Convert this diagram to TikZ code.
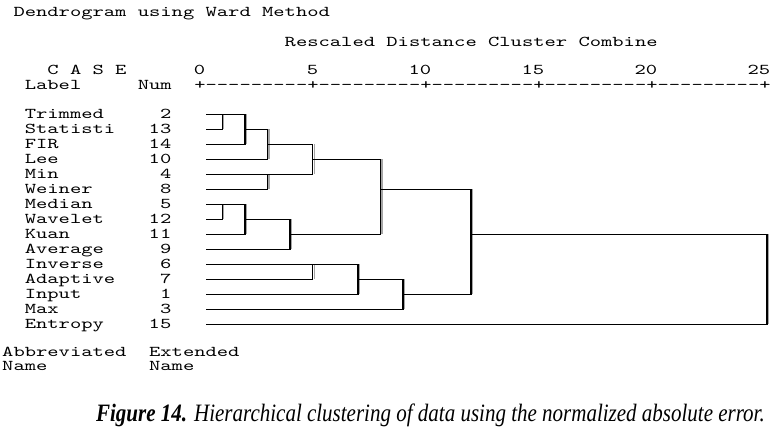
\documentclass[tikz,border=0pt]{standalone}
\usepackage{fontspec}
\usepackage{tikz}
\usetikzlibrary{calc}
\newfontfamily\spssfont{lmmono10-regular.otf}[FakeStretch=1.435,Ligatures=TeXOff]
\newfontfamily\captionfont{Liberation Serif}[FakeStretch=0.84]
\definecolor{spssgray}{RGB}{165,165,165}

\begin{document}
\begin{tikzpicture}[x=1pt,y=-1pt,line cap=butt,line join=miter,
  txt/.style={anchor=base west,inner sep=0pt,
   font=\spssfont\fontsize{15}{15}\selectfont},
  branch/.style={black,line width=1.5pt},
  shadowline/.style={spssgray,line width=1.2pt}]
 \useasboundingbox (0,0) rectangle (779,432);
 % Naglowek wydruku
 \node[txt] (title) at (13.3,16) {Dendrogram using Ward Method};
 \node[txt] (rescaled) at (284.5,46) {Rescaled Distance Cluster Combine};
 \node[txt] (case) at (47.2,74) {C A S E};
 \node[txt] (label) at (24.6,89) {Label};
 \node[txt] (num) at (137.6,89) {Num};
 \foreach \t [count=\k from 0] in {0,5,10,15,20,25}
  \node[txt,anchor=base east] (tick\t) at ({2+11.3*(18+10*\k)},74) {\t};
 \node[txt] (axis) at (194.1,89)
  {+---------+---------+---------+---------+---------+};
 % Wiersze: nazwa, numer i poczatek galezi
 \foreach \lab/\num [count=\i from 0] in {Trimmed/2,Statisti/13,FIR/14,
   Lee/10,Min/4,Weiner/8,Median/5,Wavelet/12,Kuan/11,Average/9,
   Inverse/6,Adaptive/7,Input/1,Max/3,Entropy/15}{
  \node[txt] (lab\num) at (24.6,{118.3+15*\i}) {\lab};
  \node[txt,anchor=base east] (num\num) at (171.5,{118.3+15*\i}) {\num};
  \coordinate (leaf\num) at (206,{114.3+15*\i});
 }
 % Punkty laczenia: odleglosc i wiersz wyjscia
 \begin{scope}[shift={(199.7,114.3)},x=22.6pt,y=-15pt]
  \coordinate (m1) at (1,0);
  \coordinate (m2) at (2,1);
  \coordinate (m3) at (3,2);
  \coordinate (m4) at (3,4);
  \coordinate (m5) at (5,3);
  \coordinate (m6) at (1,6);
  \coordinate (m7) at (2,7);
  \coordinate (m8) at (4,8);
  \coordinate (m9) at (8,5);
  \coordinate (m10) at (5,10);
  \coordinate (m11) at (7,11);
  \coordinate (m12) at (9,12);
  \coordinate (m13) at (12,8);
  \coordinate (m14) at (25.1,8);
 \end{scope}
 \foreach \a/\b/\m in {leaf2/leaf13/m1,m1/leaf14/m2,m2/leaf10/m3,
   leaf4/leaf8/m4,m3/m4/m5,leaf5/leaf12/m6,m6/leaf11/m7,m7/leaf9/m8,
   m5/m8/m9,leaf6/leaf7/m10,m10/leaf1/m11,m11/leaf3/m12,m9/m12/m13,
   m13/leaf15/m14}{
  \draw[shadowline,transform canvas={xshift=1.5pt}] (\a -| \m) -- (\b -| \m);
  \draw[branch] (\a) -- (\a -| \m) -- (\b -| \m) -- (\b);
 }
 % Stopka i podpis
 \node[txt] (abbr) at (2,356) {Abbreviated};
 \node[txt] (ext) at (148.9,356) {Extended};
 \node[txt] (name1) at (2,370) {Name};
 \node[txt] (name2) at (148.9,370) {Name};
 \node[anchor=base east,inner sep=0pt,
  font=\captionfont\fontsize{25}{25}\selectfont\itshape] (caption) at (765,421)
  {\textbf{Figure 14.} Hierarchical clustering of data using the normalized absolute error.};
\end{tikzpicture}
\end{document}
